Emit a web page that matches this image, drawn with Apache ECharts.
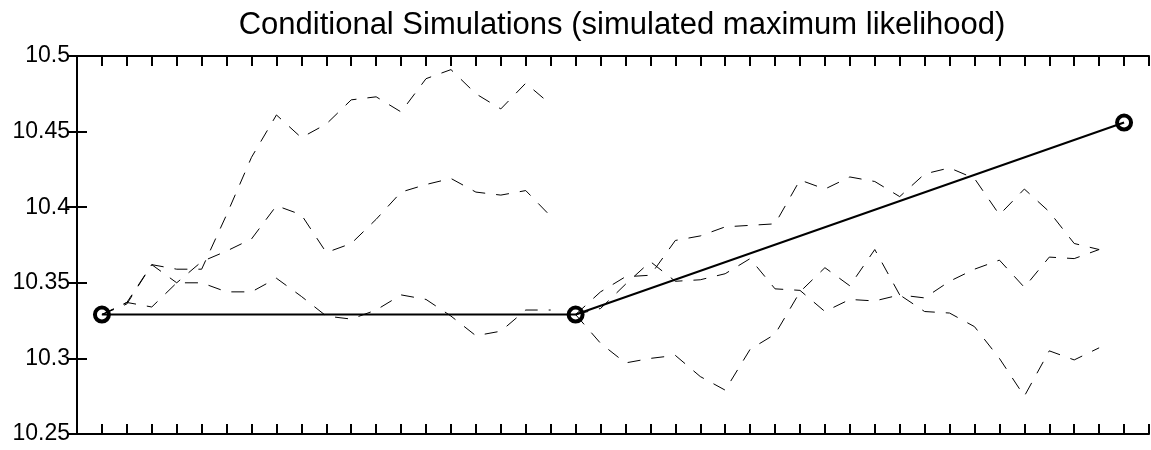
<!DOCTYPE html>
<html>
<head>
<meta charset="utf-8">
<script src="https://cdn.jsdelivr.net/npm/echarts@6/dist/echarts.min.js"></script>
<style>
html,body{margin:0;padding:0;background:#fff;}
#chart{width:1151px;height:450px;}
</style>
</head>
<body>
<div id="chart"></div>
<script>
// ---- data ----
const titleText = "Conditional Simulations (simulated maximum likelihood)";
const yTicks = [10.25, 10.3, 10.35, 10.4, 10.45, 10.5];

const obsSteps  = [1, 20, 42];
const obsValues = [10.329, 10.329, 10.456];

const seg1Steps = [1,2,3,4,5,6,7,8,9,10,11,12,13,14,15,16,17,18,19];
const simA = [10.329,10.337,10.362,10.359,10.359,10.395,10.433,10.461,10.446,10.455,10.471,10.473,10.463,10.485,10.491,10.475,10.465,10.482,10.468];
const simB = [10.329,10.336,10.362,10.350,10.364,10.371,10.379,10.401,10.395,10.370,10.376,10.392,10.410,10.415,10.419,10.410,10.408,10.411,10.394];
const simC = [10.329,10.337,10.334,10.350,10.350,10.344,10.344,10.353,10.341,10.328,10.326,10.332,10.342,10.339,10.328,10.315,10.318,10.332,10.332];

const seg2Steps = [20,21,22,23,24,25,26,27,28,29,30,31,32,33,34,35,36,37,38,39,40,41];
const simD = [10.329,10.344,10.354,10.355,10.378,10.381,10.387,10.388,10.389,10.418,10.412,10.420,10.417,10.407,10.422,10.426,10.419,10.395,10.412,10.397,10.376,10.372];
const simE = [10.329,10.310,10.297,10.300,10.302,10.288,10.279,10.306,10.316,10.344,10.360,10.348,10.372,10.342,10.340,10.351,10.359,10.365,10.347,10.367,10.366,10.372];
const simH = [10.329,10.333,10.349,10.364,10.351,10.352,10.356,10.366,10.346,10.345,10.331,10.339,10.338,10.342,10.331,10.330,10.321,10.300,10.275,10.305,10.299,10.307];

// ---- build ----
function pairs(xs, ys){ return xs.map((x,i)=>[x, ys[i]]); }
const dashStyle = {color:'#000', width:1, type:[13,11]};
function simSeries(xs, ys){
  return {type:'line', data:pairs(xs, ys), showSymbol:false, symbol:'none',
          lineStyle:dashStyle, silent:true, z:2};
}
const font = "'Liberation Sans', Arial, Helvetica, sans-serif";
const axisLine = {show:true, lineStyle:{color:'#000', width:2}};
const tick = {show:true, inside:true, length:10, lineStyle:{color:'#000', width:2}};

const chart = echarts.init(document.getElementById('chart'), null, {renderer:'canvas'});
chart.setOption({
  animation:false,
  backgroundColor:'#fff',
  title:{text:titleText, left:617, textAlign:'center', top:5,
         textStyle:{fontFamily:font, fontSize:31, fontWeight:'normal', color:'#000'}},
  grid:{left:77, right:2, top:56, bottom:16, containLabel:false},
  xAxis:[
    {type:'value', position:'bottom', min:0, max:43, interval:1,
     axisLine:axisLine, axisTick:tick, axisLabel:{show:false}, splitLine:{show:false}},
    {type:'value', position:'top', min:0, max:43, interval:1,
     axisLine:axisLine, axisTick:tick, axisLabel:{show:false}, splitLine:{show:false}}
  ],
  yAxis:[
    {type:'value', position:'left', min:yTicks[0], max:yTicks[yTicks.length-1], interval:0.05,
     axisLine:axisLine, axisTick:tick, splitLine:{show:false},
     axisLabel:{show:true, margin:7, color:'#000', fontFamily:font, fontSize:23,
       formatter:v=>String(+v.toFixed(2))}},
    {type:'value', position:'right', min:yTicks[0], max:yTicks[yTicks.length-1], interval:0.05,
     axisLine:axisLine, axisTick:tick, axisLabel:{show:false}, splitLine:{show:false}}
  ],
  series:[
    simSeries(seg1Steps, simA),
    simSeries(seg1Steps, simB),
    simSeries(seg1Steps, simC),
    simSeries(seg2Steps, simD),
    simSeries(seg2Steps, simE),
    simSeries(seg2Steps, simH),
    {type:'line', data:pairs(obsSteps, obsValues), symbol:'circle', symbolSize:14,
     showSymbol:true, lineStyle:{color:'#000', width:2},
     itemStyle:{color:'rgba(255,255,255,0)', borderColor:'#000', borderWidth:4},
     silent:true, z:5}
  ]
});
</script>
</body>
</html>
